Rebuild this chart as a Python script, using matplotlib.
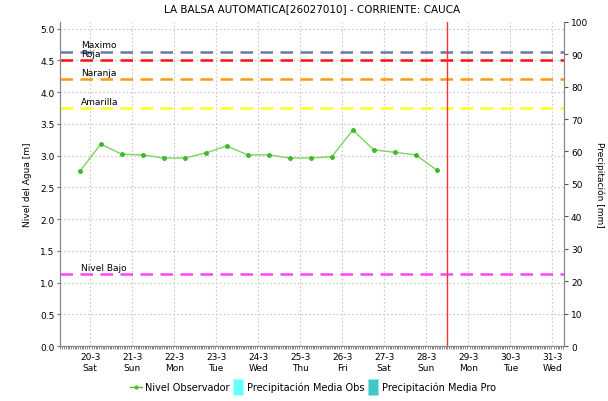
import numpy as np
import matplotlib.pyplot as plt
from matplotlib.lines import Line2D
from matplotlib.ticker import MultipleLocator

# level readings every 12 h, time in days from 20-3 00:00
t_obs = [-0.25, 0.25, 0.75, 1.25, 1.75, 2.25, 2.75, 3.25, 3.75,
         4.25, 4.75, 5.25, 5.75, 6.25, 6.75, 7.25, 7.75, 8.25]
nivel = [2.75, 3.18, 3.02, 3.01, 2.96, 2.96, 3.04, 3.15, 3.01,
         3.01, 2.96, 2.96, 2.98, 3.40, 3.09, 3.05, 3.01, 2.77]

day_labels = ['20-3\nSat', '21-3\nSun', '22-3\nMon', '23-3\nTue', '24-3\nWed',
              '25-3\nThu', '26-3\nFri', '27-3\nSat', '28-3\nSun', '29-3\nMon',
              '30-3\nTue', '31-3\nWed']

umbral_nombres = ['Maximo', 'Roja', 'Naranja', 'Amarilla', 'Nivel Bajo']
umbral_valores = [4.635, 4.50, 4.205, 3.75, 1.13]
umbral_colores = ['#6b78a8', '#ff1010', '#ff9910', '#ffff20', '#ff44ff']

t_actual = 8.5  # current time marker (28-3 12:00)

plt.rcParams['font.family'] = 'DejaVu Sans'
fig = plt.figure(figsize=(6.08, 4.02), dpi=100)
ax = fig.add_axes([0.0987, 0.1368, 0.829, 0.8067])
ax2 = ax.twinx()

ax.set_xlim(-0.72, 11.28)
ax.set_ylim(0, 5.107)
ax2.set_ylim(0, 100)

# grid
ax.set_xticks(np.arange(len(day_labels)))
ax.set_xticklabels(day_labels, fontsize=6.5, linespacing=1.35)
ax.xaxis.set_minor_locator(MultipleLocator(1 / 24))
ax.tick_params(axis='x', which='major', length=0, pad=4)
ax.tick_params(axis='x', which='minor', length=2, width=0.5, color='#555555')
ax.yaxis.set_major_locator(MultipleLocator(0.5))
ax.yaxis.set_major_formatter(plt.FormatStrFormatter('%.1f'))
ax.tick_params(axis='y', length=2, width=0.8, color='#777777', labelsize=6.5, pad=2)
ax.grid(True, linestyle=(0, (1.5, 2)), color='#c8c8c8', linewidth=0.8)
ax.set_axisbelow(True)

ax2.yaxis.set_major_locator(MultipleLocator(10))
ax2.tick_params(axis='y', length=3, width=0.8, color='#555555', labelsize=6.5, pad=2)

for a in (ax, ax2):
    a.spines['top'].set_visible(False)
    a.spines['left'].set_color('#888888')
    a.spines['right'].set_color('#888888')
    a.spines['bottom'].set_color('#888888')

# thresholds
for nombre, valor, color in zip(umbral_nombres, umbral_valores, umbral_colores):
    ax.axhline(valor, color=color, linestyle=(0, (5, 3)), linewidth=1.8, zorder=2)
    ax.text(-0.22, valor + 0.035, nombre, fontsize=6.5, va='bottom', ha='left')

ax.axvline(t_actual, color='#ff3030', linewidth=1.0, zorder=3)

ax.plot(t_obs, nivel, color='#7fd35a', linewidth=1.0, marker='o',
        markersize=2.5, markerfacecolor='#3cb82a', markeredgecolor='#3cb82a', zorder=4)

ax.set_ylabel('Nivel del Agua [m]', fontsize=6.5, labelpad=6)
ax2.set_ylabel('Precipitación [mm]', fontsize=6.5, rotation=270, labelpad=12)
ax.set_title('LA BALSA AUTOMATICA[26027010] - CORRIENTE: CAUCA', fontsize=7.5, pad=8)

# narrow upright swatches for the precipitation series
barra = [(-0.3, -0.5), (0.3, -0.5), (0.3, 0.5), (-0.3, 0.5), (-0.3, -0.5)]
handles = [
    Line2D([], [], color='#4cc02e', linewidth=1.0, marker='o', markersize=2),
    Line2D([], [], linestyle='none', marker=barra, markersize=11,
           markerfacecolor='#66ffff', markeredgecolor='none'),
    Line2D([], [], linestyle='none', marker=barra, markersize=11,
           markerfacecolor='#40c8c8', markeredgecolor='none'),
]
labels = ['Nivel Observador', 'Precipitación Media Obs', 'Precipitación Media Pro']
fig.legend(handles, labels, loc='lower center', bbox_to_anchor=(0.515, 0.0),
           ncol=3, frameon=False, fontsize=7, handlelength=1.3,
           handletextpad=0.3, columnspacing=0.2)

fig.savefig('out.png', dpi=100)
